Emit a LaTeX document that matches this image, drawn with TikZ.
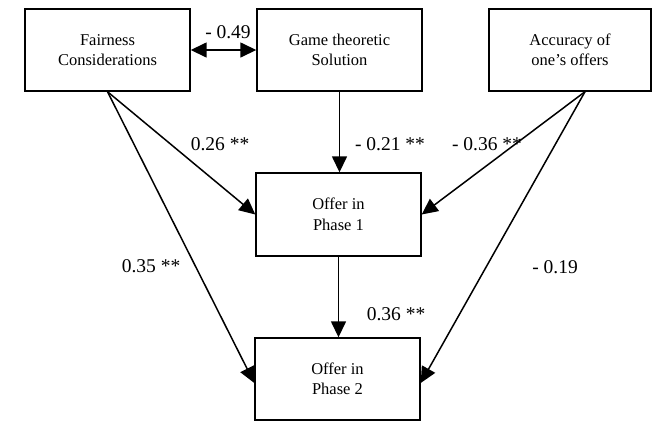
\documentclass[tikz,border=0pt]{standalone}
\usepackage{fontspec}
\setmainfont{Liberation Serif}
\usetikzlibrary{arrows.meta,calc}
\begin{document}
\begin{tikzpicture}[x=1pt,y=-1pt,
  box/.style={draw,line width=1.4pt,minimum width=165pt,minimum height=82pt,inner sep=0pt,align=center,font=\fontsize{16.5}{20.5}\selectfont},
  conn/.style={line width=1.5pt,-{Triangle[length=16pt,width=15pt]}},
  lab/.style={font=\fontsize{19.5}{22}\selectfont,inner sep=0pt}]
\useasboundingbox (0,0) rectangle (653,421);
\node[box] (fair) at (107.5,50) {Fairness\\Considerations};
\node[box] (game) at (339.5,50) {Game theoretic\\Solution};
\node[box,minimum width=162pt] (acc) at (570,50) {Accuracy of\\one’s offers};
\node[box,minimum height=83pt] (o1) at (338.5,214.5) {Offer in\\Phase 1};
\node[box] (o2) at (337.5,379) {Offer in\\Phase 2};
\coordinate (accs) at ([xshift=15pt]acc.south);
\draw[line width=1.5pt,{Triangle[length=16pt,width=15pt]}-{Triangle[length=16pt,width=15pt]}] (fair.east) -- (game.west);
\draw[conn] (game.south) -- (game.south |- o1.north);
\draw[conn] (fair.south) -- (o1.west);
\draw[conn] (fair.south) -- ([yshift=-4pt]o2.west);
\draw[conn] (accs) -- (o1.east);
\draw[conn] (accs) -- ([yshift=-4pt]o2.east);
\draw[conn] (o1.south) -- (o1.south |- o2.north);
\node[lab] (l049) at (228,32) {- 0.49};
\node[lab] (l026) at (220,144) {0.26 **};
\node[lab] (l021) at (390,144) {- 0.21 **};
\node[lab] (l036a) at (487,144) {- 0.36 **};
\node[lab] (l035) at (151,266) {0.35 **};
\node[lab] (l019) at (555,267) {- 0.19};
\node[lab] (l036b) at (396,314) {0.36 **};
\end{tikzpicture}
\end{document}
